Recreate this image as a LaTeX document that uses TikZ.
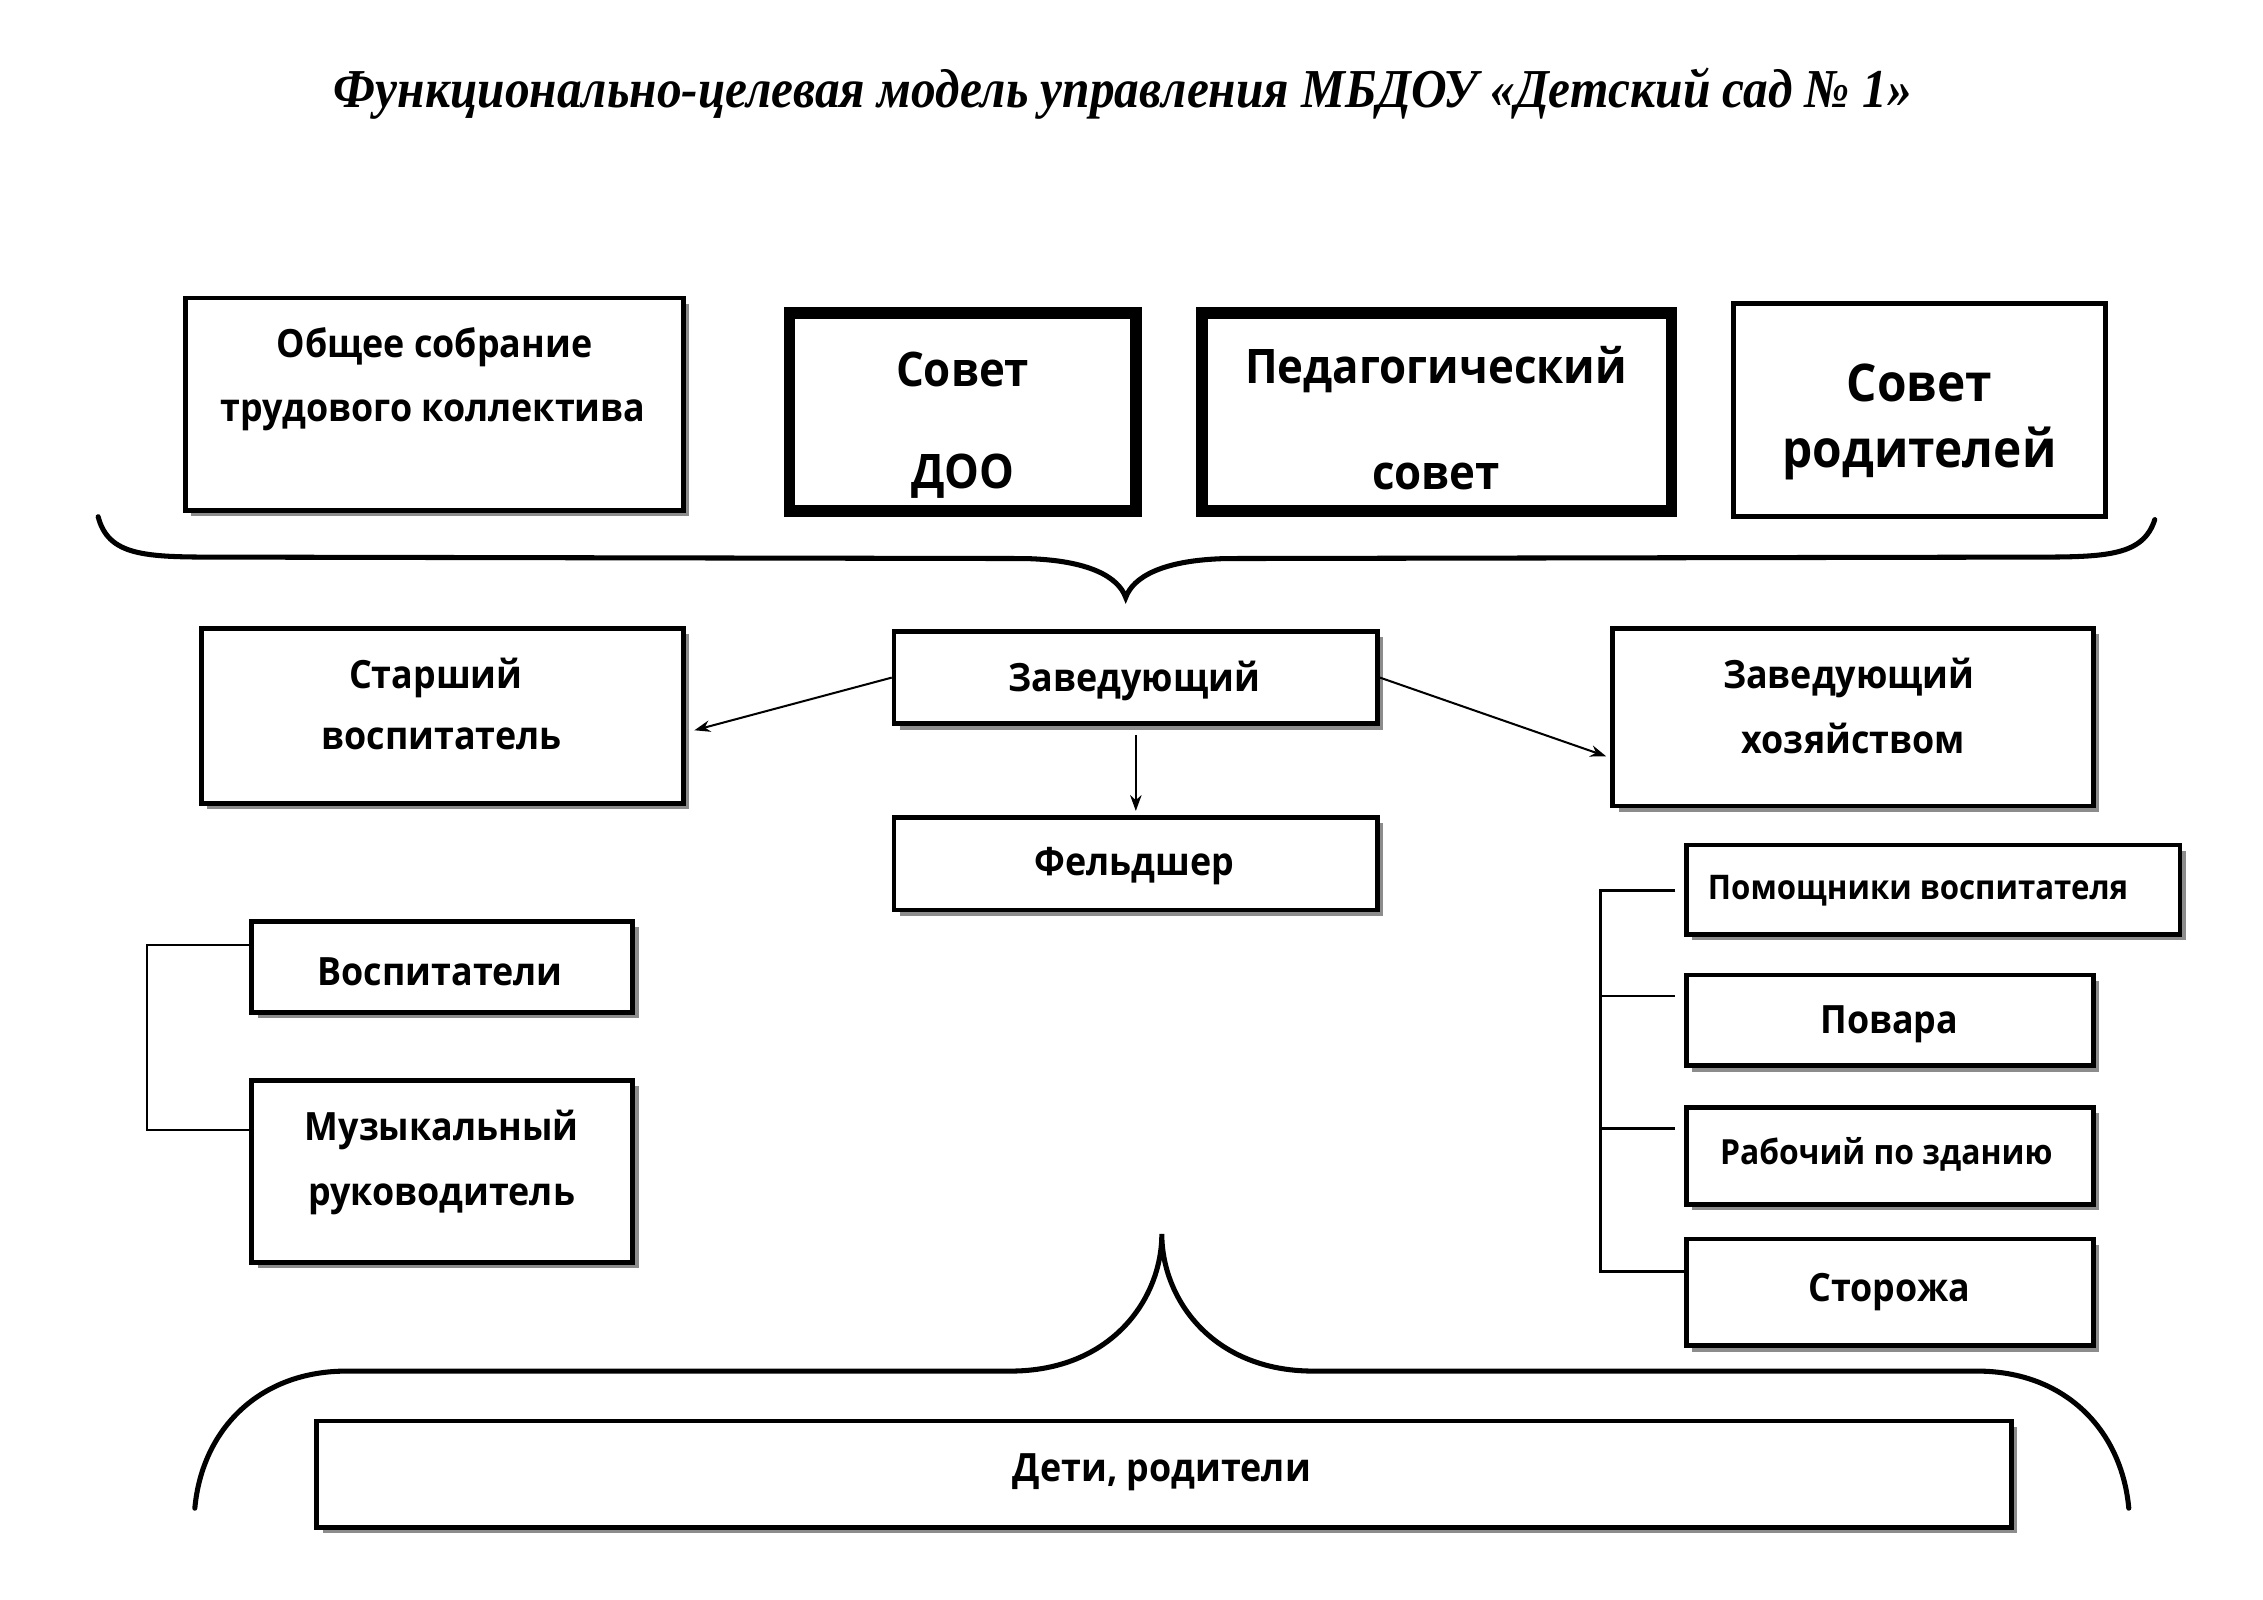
\documentclass[tikz,border=0pt]{standalone}
\usepackage{fontspec}
\setmainfont{Open Sans}[FakeStretch=0.92]
\newfontfamily\titlefont{Liberation Serif}[FakeStretch=0.9]
\usetikzlibrary{shadows,arrows.meta,calc}
\begin{document}
\begin{tikzpicture}[x=1pt,y=-1pt,
  box/.style={draw, line width=3.3pt, fill=white, inner sep=0pt},
  shbox/.style={box, drop shadow={shadow xshift=4pt, shadow yshift=-4pt, fill=black!45, opacity=1}},
  thickbox/.style={draw, line width=8pt, fill=white, inner sep=0pt},
  txt/.style={font=\fontsize{27}{31}\selectfont\bfseries, inner sep=0pt},
  bigtxt/.style={font=\fontsize{33}{38}\selectfont\bfseries, inner sep=0pt},
  smalltxt/.style={font=\fontsize{23.5}{27}\selectfont\bfseries, inner sep=0pt},
  conn/.style={line width=1.6pt},
  arr/.style={line width=1.4pt, -{Stealth[length=11pt,width=8pt]}},
  brace/.style={line width=3.5pt, line cap=round}
]
\useasboundingbox (0,0) rectangle (1568,1108.6);
\fill[white] (0,0) rectangle (1568,1108.6);

% title
\node[inner sep=0pt, font=\titlefont\fontsize{38}{44}\selectfont\bfseries\itshape] (title) at (778,65)
  {Функционально-целевая модель управления МБДОУ «Детский сад № 1»};

% top row
\node[shbox, minimum width=345pt, minimum height=147pt] (ob) at (301,280) {};
\node[txt] (ob1) at (301,240.5) {Общее собрание};
\node[txt] (ob2) at (300,287.5) {трудового коллектива};

\node[thickbox, minimum width=240pt, minimum height=137pt] (sd) at (667,285.5) {};
\node[bigtxt] (sd1) at (667,256) {Совет};
\node[bigtxt] (sd2) at (667,330) {ДОО};

\node[thickbox, minimum width=325pt, minimum height=137pt] (ps) at (995.5,285.5) {};
\node[bigtxt] (ps1) at (995,256) {Педагогический};
\node[bigtxt] (ps2) at (995,330) {совет};

\node[box, line width=3.5pt, minimum width=258pt, minimum height=148pt] (sr) at (1330,284) {};
\node[bigtxt, font=\fontsize{36}{40}\selectfont\bfseries] (sr1) at (1330,265) {Совет};
\node[bigtxt, font=\fontsize{36}{40}\selectfont\bfseries] (sr2) at (1330,314) {родителей};

% top brace
\draw[brace] (68,358) .. controls (75,385) and (100,386) .. (150,386) -- (710,387)
  .. controls (755,388) and (775,400) .. (780,414)
  .. controls (785,400) and (805,388) .. (850,387) -- (1410,386)
  .. controls (1460,386) and (1485,385) .. (1493,360);

% second row
\node[shbox, minimum width=334pt, minimum height=121pt] (sv) at (306.5,496) {};
\node[txt] (sv1) at (302,470) {Старший};
\node[txt] (sv2) at (306,512) {воспитатель};

\node[shbox, minimum width=335pt, minimum height=64pt] (zv) at (787,469.5) {};
\node[txt] (zv1) at (786,472) {Заведующий};

\node[shbox, minimum width=333pt, minimum height=123pt] (zh) at (1284,497) {};
\node[txt] (zh1) at (1281,470) {Заведующий};
\node[txt] (zh2) at (1284,512) {хозяйством};

\node[shbox, minimum width=335pt, minimum height=64pt] (fe) at (787,598.5) {};
\node[txt] (fe1) at (786,600) {Фельдшер};

% arrows
\draw[arr] (zv.west) -- ($(sv.east)+(6,10)$);
\draw[arr] (zv.east) -- ($(zh.west)+(-3,27)$);
\draw[arr] ($(zv.south)+(0,6)$) -- ($(fe.north)+(0,-3)$);

% left group
\node[shbox, minimum width=264pt, minimum height=63pt] (vo) at (306.5,670) {};
\node[txt] (vo1) at (305,673) {Воспитатели};
\node[shbox, minimum width=264pt, minimum height=126pt] (mr) at (306.5,811.5) {};
\node[txt] (mr1) at (306,783) {Музыкальный};
\node[txt] (mr2) at (306,831) {руководитель};

\coordinate (lc1) at (102,655);
\coordinate (lc2) at (102,783);
\draw[conn] (vo.west |- lc1) -- (lc1) -- (lc2) -- (mr.west |- lc2);

% right group
\node[shbox, minimum width=342pt, minimum height=62pt] (pv) at (1339.5,616.5) {};
\node[smalltxt] (pv1) at (1329,617) {Помощники воспитателя};
\node[shbox, minimum width=282pt, minimum height=63pt] (po) at (1309.5,707) {};
\node[txt] (po1) at (1309,710) {Повара};
\node[shbox, minimum width=282pt, minimum height=67pt] (rz) at (1309.5,801) {};
\node[smalltxt, font=\fontsize{24}{28}\selectfont\bfseries] (rz1) at (1307,800) {Рабочий по зданию};
\node[shbox, minimum width=282pt, minimum height=74pt] (st) at (1309.5,895.5) {};
\node[txt] (st1) at (1309,895) {Сторожа};

\coordinate (rc1) at (1109,617);
\coordinate (rc2) at (1109,690);
\coordinate (rc3) at (1109,782);
\coordinate (rc4) at (1109,881);
\draw[conn] ([xshift=-6pt]pv.west |- rc1) -- (rc1) -- (rc4) -- (st.west |- rc4);
\draw[conn] (rc2) -- ([xshift=-6pt]po.west |- rc2);
\draw[conn] (rc3) -- ([xshift=-6pt]rz.west |- rc3);

% bottom brace
\draw[brace] (135,1045) .. controls (140,990) and (180,950) .. (240,950) -- (700,950)
  .. controls (770,950) and (805,900) .. (805,855)
  .. controls (805,900) and (840,950) .. (910,950) -- (1370,950)
  .. controls (1430,950) and (1470,990) .. (1475,1045);

% bottom box
\node[shbox, minimum width=1174pt, minimum height=74pt] (dr) at (806.5,1021.5) {};
\node[txt] (dr1) at (805,1020) {Дети, родители};
\end{tikzpicture}
\end{document}
